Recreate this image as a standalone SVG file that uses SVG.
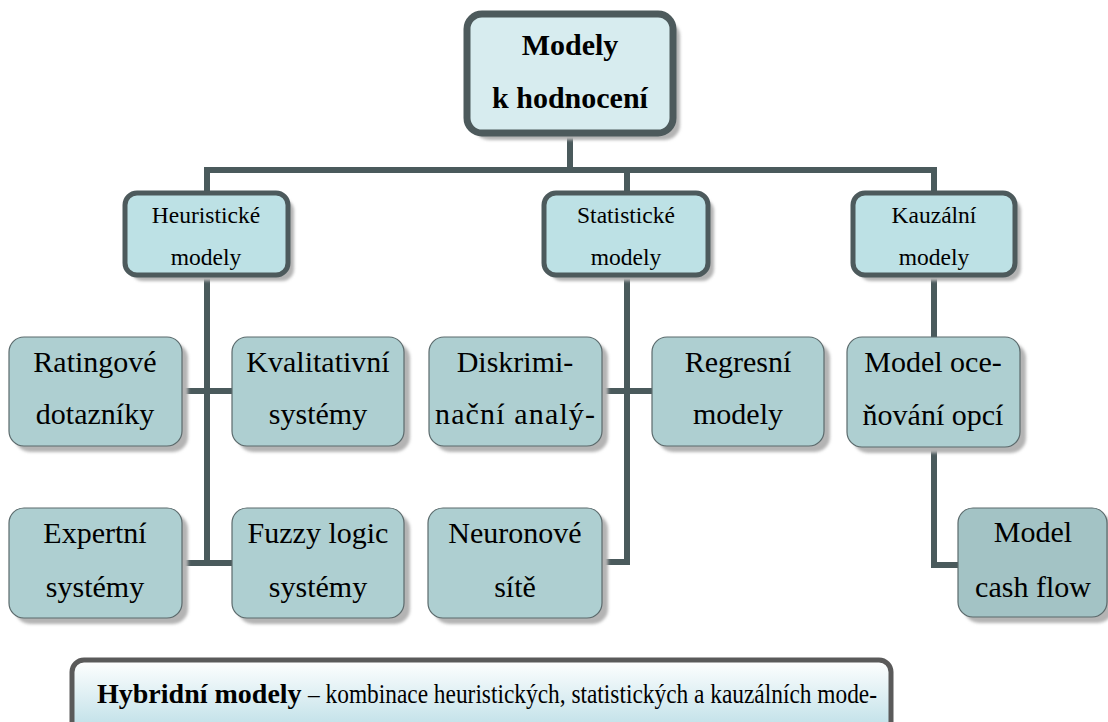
<svg xmlns="http://www.w3.org/2000/svg" width="1108" height="722" viewBox="0 0 1108 722">
<defs>
<filter id="blur" x="-10%" y="-10%" width="130%" height="130%"><feGaussianBlur stdDeviation="1.5"/></filter>
<linearGradient id="hyb" x1="0" y1="0" x2="0" y2="1"><stop offset="0" stop-color="#ffffff"/><stop offset="1" stop-color="#b5dbe4"/></linearGradient>
</defs>
<style>
.conn{fill:none;stroke:#4a5a5c;stroke-width:6;stroke-linejoin:miter}
.sh{fill:#b4b4b4;filter:url(#blur)}
.top{fill:#d7ecef;stroke:#4d5a5c;stroke-width:7}
.l1{fill:#bde1e5;stroke:#4d5a5c;stroke-width:5}
.leaf{fill:#aecfd1;stroke:#5b6a6c;stroke-width:1.2}
.leaf2{fill:#a3c3c5;stroke:#5b6a6c;stroke-width:1.2}
text{fill:#000;text-anchor:middle}
.tt{font-size:30px;font-weight:bold}
.t1{font-size:23.5px}
.t2{font-size:30px}
</style>
<rect width="1108" height="722" fill="#ffffff"/>
<g id="connectors">
<path class="conn" d="M570,133 V170 M204,170 H937"/>
<path class="conn" d="M207,170 V193 M207,275 V563 M182,391 H232 M182,563 H232"/>
<path class="conn" d="M627,170 V193 M627,275 V562 H602 M602,391 H652"/>
<path class="conn" d="M934,170 V193 M934,275 V337 M934,447 V565 H958"/>
</g>
<g font-family="'Liberation Serif', 'DejaVu Serif', serif">
<g id="n-top">
<rect class="sh" x="474" y="21" width="206" height="119" rx="15"/>
<rect class="top" x="467" y="14" width="206" height="119" rx="15"/>
<text class="tt" x="570" y="55">Modely</text>
<text class="tt" x="570" y="108">k hodnocení</text>
</g>
<g id="n-heur">
<rect class="sh" x="131" y="199" width="163" height="82" rx="12"/>
<rect class="l1" x="125" y="193" width="163" height="82" rx="12"/>
<text class="t1" x="206" y="223">Heuristické</text>
<text class="t1" x="206" y="265">modely</text>
</g>
<g id="n-stat">
<rect class="sh" x="550" y="199" width="164" height="82" rx="12"/>
<rect class="l1" x="544" y="193" width="164" height="82" rx="12"/>
<text class="t1" x="626" y="223">Statistické</text>
<text class="t1" x="626" y="265">modely</text>
</g>
<g id="n-kauz">
<rect class="sh" x="859" y="199" width="162" height="82" rx="12"/>
<rect class="l1" x="853" y="193" width="162" height="82" rx="12"/>
<text class="t1" x="934" y="223">Kauzální</text>
<text class="t1" x="934" y="265">modely</text>
</g>
<g id="n-rating">
<rect class="sh" x="15" y="343" width="173" height="109" rx="15"/>
<rect class="leaf" x="9" y="337" width="173" height="109" rx="15"/>
<text class="t2" x="95" y="372">Ratingové</text>
<text class="t2" x="95" y="424">dotazníky</text>
</g>
<g id="n-kval">
<rect class="sh" x="238" y="343" width="172" height="109" rx="15"/>
<rect class="leaf" x="232" y="337" width="172" height="109" rx="15"/>
<text class="t2" x="318" y="372">Kvalitativní</text>
<text class="t2" x="318" y="424">systémy</text>
</g>
<g id="n-disk">
<rect class="sh" x="435" y="343" width="173" height="109" rx="15"/>
<rect class="leaf" x="429" y="337" width="173" height="109" rx="15"/>
<text class="t2" x="515" y="372">Diskrimi-</text>
<text class="t2" x="515" y="424" textLength="160" lengthAdjust="spacing">nační analý-</text>
</g>
<g id="n-regr">
<rect class="sh" x="658" y="343" width="172" height="109" rx="15"/>
<rect class="leaf" x="652" y="337" width="172" height="109" rx="15"/>
<text class="t2" x="738" y="372">Regresní</text>
<text class="t2" x="738" y="424">modely</text>
</g>
<g id="n-opce">
<rect class="sh" x="853" y="343" width="173" height="110" rx="15"/>
<rect class="leaf" x="847" y="337" width="173" height="110" rx="15"/>
<text class="t2" x="933" y="372">Model oce-</text>
<text class="t2" x="933" y="425">ňování opcí</text>
</g>
<g id="n-expert">
<rect class="sh" x="15" y="514" width="173" height="110" rx="15"/>
<rect class="leaf" x="9" y="508" width="173" height="110" rx="15"/>
<text class="t2" x="95" y="543">Expertní</text>
<text class="t2" x="95" y="597">systémy</text>
</g>
<g id="n-fuzzy">
<rect class="sh" x="238" y="514" width="172" height="110" rx="15"/>
<rect class="leaf" x="232" y="508" width="172" height="110" rx="15"/>
<text class="t2" x="318" y="543">Fuzzy logic</text>
<text class="t2" x="318" y="597">systémy</text>
</g>
<g id="n-neuron">
<rect class="sh" x="434" y="514" width="174" height="110" rx="15"/>
<rect class="leaf" x="428" y="508" width="174" height="110" rx="15"/>
<text class="t2" x="515" y="543">Neuronové</text>
<text class="t2" x="515" y="597">sítě</text>
</g>
<g id="n-cash">
<rect class="sh" x="964" y="514" width="149" height="109" rx="15"/>
<rect class="leaf2" x="958" y="508" width="149" height="109" rx="15"/>
<text class="t2" x="1033" y="542">Model</text>
<text class="t2" x="1033" y="597">cash flow</text>
</g>
<g id="n-hybrid">
<rect x="72" y="660" width="819" height="80" rx="12" fill="url(#hyb)" stroke="#5a5a5a" stroke-width="5"/>
<text x="97" y="703" style="font-size:28px;font-weight:bold;text-anchor:start">Hybridní modely</text>
<text x="308" y="703" style="font-size:27px;text-anchor:start" textLength="569" lengthAdjust="spacingAndGlyphs">– kombinace heuristických, statistických a kauzálních mode-</text>
</g>
</g>
</svg>
